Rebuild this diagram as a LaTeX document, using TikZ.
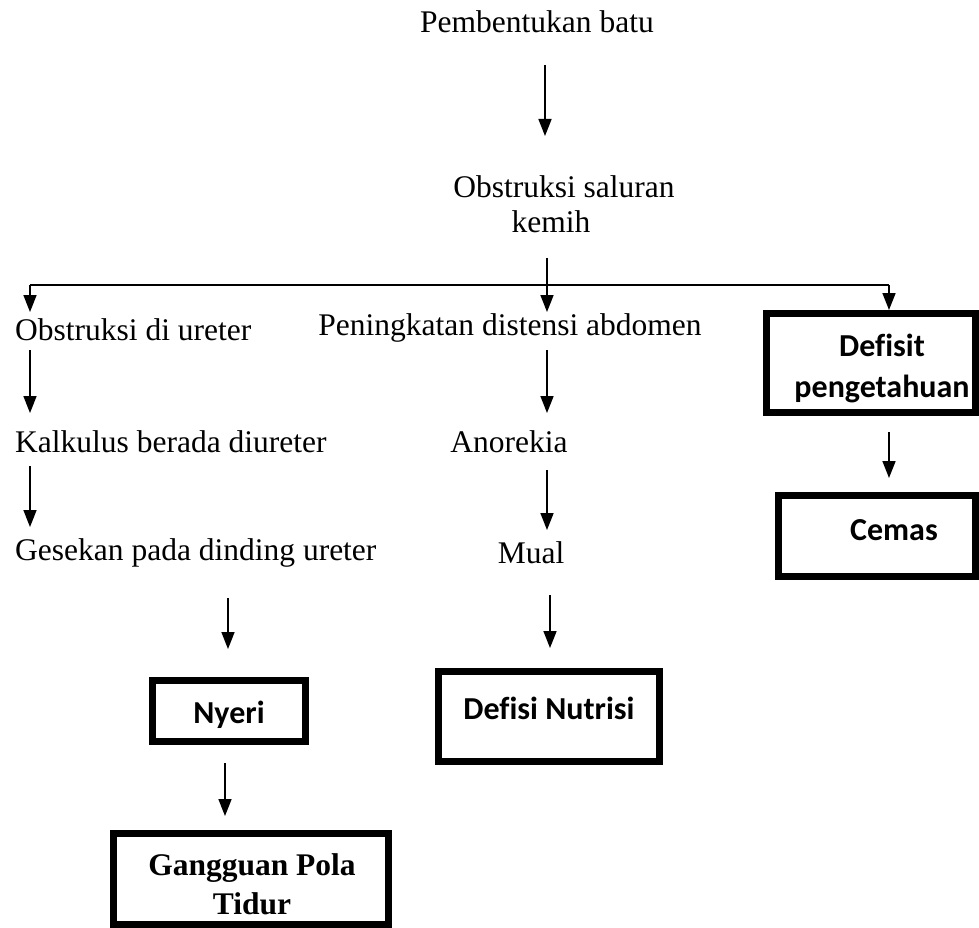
\documentclass[tikz,border=0pt]{standalone}
\usepackage{fontspec}
\setmainfont{Liberation Serif}
\newfontfamily\calb{Carlito}[Ligatures=CommonOff]
\usetikzlibrary{arrows.meta}
\tikzset{
  txt/.style={inner sep=0pt, font=\fontsize{31.5}{36}\selectfont},
  ltxt/.style={txt, anchor=west},
  btxt/.style={inner sep=0pt, font=\calb\bfseries\fontsize{32}{41}\selectfont, align=center},
  bx/.style={draw, line width=7pt, inner sep=0pt},
  ln/.style={line width=1.7pt},
  arr/.style={ln, -{Triangle[length=17pt,width=13pt]}},
}
\begin{document}
\begin{tikzpicture}[x=1pt,y=-1pt]
\useasboundingbox (0,0) rectangle (979,928);
% top
\node[txt] (pb) at (537,22) {Pembentukan batu};
\node[txt] (os1) at (564,187) {Obstruksi saluran};
\node[txt] (os2) at (551,222) {kemih};
\coordinate (a1s) at (545,65);
\coordinate (a1e) at (545,136);
\draw[arr] (a1s) -- (a1e);
% split
\coordinate (s0) at (547,258);
\coordinate (sj) at (547,285);
\coordinate (sl) at (30,285);
\coordinate (sr) at (889,285);
\draw[ln] (s0) -- (sj);
\draw[ln] (sl) -- (sr);
% left column
\node[ltxt] (ou) at (15,330) {Obstruksi di ureter};
\node[ltxt] (kb) at (15,442) {Kalkulus berada diureter};
\node[ltxt] (gd) at (15,553) {Gesekan pada dinding ureter};
\draw[arr] (sl) -- (30,312);
\draw[arr] (30,350) -- (30,413);
\draw[arr] (30,466) -- (30,527);
% Nyeri
\node[bx, minimum width=153pt, minimum height=61pt] (nybox) at (229,711) {};
\node[btxt] (ny) at (229,715) {Nyeri};
\draw[arr] (228,598) -- (228,649);
% Gangguan
\node[bx, minimum width=275pt, minimum height=91pt] (gpbox) at (251,879) {};
\node[inner sep=0pt, font=\bfseries\fontsize{31.5}{39}\selectfont, align=center] (gp) at (252,884) {Gangguan Pola\\Tidur};
\draw[arr] (225,763) -- (225,816);
% middle column
\node[txt] (pd) at (510,328) {Peningkatan distensi abdomen};
\node[txt] (an) at (509,442) {Anorekia};
\node[txt] (mu) at (531,553) {Mual};
\draw[arr] (sj) -- (547,312);
\draw[arr] (547,350) -- (547,413);
\draw[arr] (547,470) -- (547,530);
\node[bx, minimum width=221pt, minimum height=90pt] (dnbox) at (549,716.5) {};
\node[btxt] (dn) at (549,708) {Defisi Nutrisi};
\draw[arr] (550,595) -- (550,648);
% right column
\node[bx, minimum width=209pt, minimum height=99pt] (dpbox) at (871,363) {};
\node[btxt] (dp) at (882,368) {Defisit\\pengetahuan};
\draw[arr] (sr) -- (889,310);
\node[bx, minimum width=197pt, minimum height=81pt] (cmbox) at (877,536) {};
\node[btxt] (cm) at (894,530) {Cemas};
\draw[arr] (889,432) -- (889,478);
\end{tikzpicture}
\end{document}
